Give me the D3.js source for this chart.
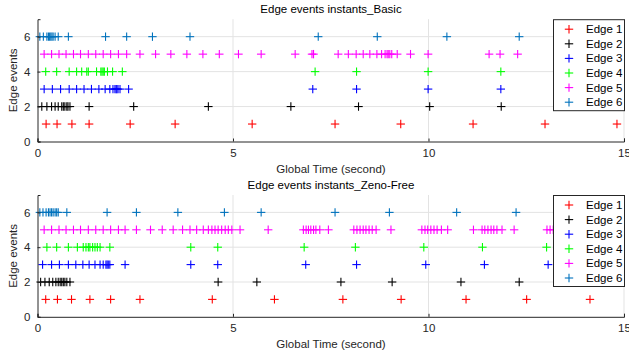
<!DOCTYPE html>
<html><head><meta charset="utf-8">
<script src="https://cdn.jsdelivr.net/npm/d3@7"></script>
<style>
body{margin:0;background:#fff;}
text{font-family:"Liberation Sans",Arial,Helvetica,sans-serif;}
</style></head>
<body><svg id="chart" width="629" height="358"></svg>
<script>
// ---------- DATA ----------
const edgeNames = ["Edge 1","Edge 2","Edge 3","Edge 4","Edge 5","Edge 6"];
const edgeLevels = [1,2,3,4,5,6];
const xTicks = [0,5,10,15];
const yTicks = [0,2,4,6];
const titles = ["Edge events instants_Basic","Edge events instants_Zeno-Free"];

// Basic
const basicEdge1 = [0.22,0.50,0.88,1.32,2.37,3.52,5.49,7.61,9.29,11.14,12.98,14.82];
const basicEdge2 = [0.11,0.24,0.36,0.45,0.53,0.62,0.66,0.70,0.75,0.78,0.83,1.32,2.46,4.37,6.48,8.21,10.03,11.86];
const basicEdge3 = [0.17,0.38,0.59,0.81,1.00,1.19,1.38,1.57,1.73,1.85,1.93,1.98,2.01,2.03,2.06,2.11,2.33,7.04,8.16,9.99,11.85];
const basicEdge4 = [0.21,0.49,0.81,1.00,1.13,1.26,1.30,1.51,1.62,1.65,1.68,1.71,1.79,1.92,2.17,7.10,8.16,9.99,11.85];
const basicEdge5 = [0.17,0.36,0.55,0.73,0.92,1.10,1.30,1.49,1.68,1.87,2.07,2.28,2.62,3.02,3.41,3.82,4.23,4.65,5.14,5.72,6.59,7.02,7.06,7.69,7.95,8.15,8.33,8.50,8.68,8.80,8.89,8.94,8.97,9.01,9.06,9.20,9.54,9.99,11.55,11.83,12.28];
const basicEdge6 = [0.06,0.15,0.24,0.28,0.31,0.34,0.37,0.40,0.45,0.53,0.79,1.74,2.28,2.94,3.90,7.18,8.69,10.47,12.32];

// Zeno-Free
const zenoEdge1 = [0.21,0.51,0.87,1.34,1.87,2.62,4.47,6.06,7.81,9.30,10.96,12.51,14.13];
const zenoEdge2 = [0.08,0.19,0.30,0.39,0.47,0.53,0.58,0.62,0.66,0.70,0.75,0.83,4.62,5.61,7.76,9.07,10.83,12.32];
const zenoEdge3 = [0.13,0.36,0.56,0.79,0.98,1.16,1.32,1.47,1.60,1.68,1.75,1.78,1.81,1.85,2.24,3.92,4.61,6.86,8.16,9.93,11.43,13.06];
const zenoEdge4 = [0.24,0.49,0.79,1.02,1.17,1.24,1.30,1.34,1.41,1.47,1.53,1.60,1.85,3.92,4.61,6.82,8.13,9.88,11.38,13.02];
const zenoEdge5 = [0.17,0.36,0.55,0.73,0.92,1.10,1.30,1.49,1.68,1.87,2.07,2.24,2.53,2.89,3.19,3.47,3.71,3.90,4.07,4.24,4.37,4.46,4.54,4.62,4.71,4.80,4.88,4.97,5.18,5.90,6.80,6.87,6.93,6.99,7.06,7.12,7.22,7.44,8.09,8.17,8.25,8.33,8.40,8.48,8.56,8.66,9.04,9.83,9.91,9.98,10.06,10.14,10.22,10.33,10.49,11.15,11.37,11.44,11.52,11.60,11.67,11.75,11.88,12.19,13.03,13.11,13.19];
const zenoEdge6 = [0.06,0.14,0.22,0.28,0.32,0.36,0.40,0.45,0.49,0.53,0.75,1.78,2.53,3.59,4.78,5.72,7.61,9.00,10.72,12.24];

const colors = ["#ff0000","#000000","#0000ff","#00ff00","#ff00ff","#0072bd"];

const panels = [
  {title: titles[0], series: [basicEdge1,basicEdge2,basicEdge3,basicEdge4,basicEdge5,basicEdge6], top: 19.2, bottom: 141.5},
  {title: titles[1], series: [zenoEdge1,zenoEdge2,zenoEdge3,zenoEdge4,zenoEdge5,zenoEdge6], top: 195, bottom: 316.8}
];

// ---------- DRAW ----------
const svg = d3.select("#chart");
const left = 37.5, right = 624;
const axisColor = "#262626";
const gridColor = "#e3e3e3";
const ms = 4.2;

function plus(sel){
  sel.append("line").attr("x1",-ms).attr("x2",ms).attr("y1",0).attr("y2",0);
  sel.append("line").attr("x1",0).attr("x2",0).attr("y1",-ms).attr("y2",ms);
}

panels.forEach(p => {
  const x = d3.scaleLinear().domain([0,15]).range([left,right]);
  const y = d3.scaleLinear().domain([0,7]).range([p.bottom,p.top]);
  const g = svg.append("g");

  // grid
  g.append("g").selectAll("line").data(xTicks.filter(d=>d>0)).join("line")
    .attr("x1",d=>x(d)).attr("x2",d=>x(d)).attr("y1",y(0)).attr("y2",y(7))
    .attr("stroke",gridColor).attr("stroke-width",1);
  g.append("g").selectAll("line").data(yTicks.filter(d=>d>0)).join("line")
    .attr("x1",x(0)).attr("x2",x(15)).attr("y1",d=>y(d)).attr("y2",d=>y(d))
    .attr("stroke",gridColor).attr("stroke-width",1);

  // markers
  p.series.forEach((vals,i) => {
    const mg = g.append("g").attr("stroke",colors[i]).attr("stroke-width",1.1);
    mg.selectAll("g").data(vals).join("g")
      .attr("transform",d=>`translate(${x(d)},${y(edgeLevels[i])})`)
      .each(function(){ plus(d3.select(this)); });
  });

  // axes
  const xAxis = d3.axisBottom(x).tickValues(xTicks).tickSize(-3).tickPadding(7).tickFormat(d3.format("d"));
  const xg = g.append("g").attr("transform",`translate(0,${y(0)})`).call(xAxis);
  const yAxis = d3.axisLeft(y).tickValues(yTicks).tickSize(-3).tickPadding(7).tickFormat(d3.format("d"));
  const yg = g.append("g").attr("transform",`translate(${x(0)},0)`).call(yAxis);
  [xg,yg].forEach(a=>{
    a.select(".domain").attr("stroke",axisColor).attr("stroke-width",1);
    a.selectAll(".tick line").attr("stroke",axisColor);
    a.selectAll(".tick text").attr("fill",axisColor).style("font-size","11.5px")
      .style("font-family","'Liberation Sans',Arial,sans-serif");
  });

  // title & labels
  g.append("text").attr("x",331).attr("y",p.top-6).attr("text-anchor","middle")
    .attr("fill","#000").style("font-size","11.5px").text(p.title);
  g.append("text").attr("x",331).attr("y",p.bottom+31).attr("text-anchor","middle")
    .attr("fill",axisColor).style("font-size","11.5px").text("Global Time (second)");
  g.append("text").attr("transform",`translate(17,${(p.top+p.bottom)/2}) rotate(-90)`)
    .attr("text-anchor","middle").attr("fill",axisColor).style("font-size","11.5px").text("Edge events");

  // legend
  const lx = 553, lw = 71, lh = 91, rowH = 14.6;
  const lg = g.append("g").attr("transform",`translate(${lx},${p.top})`);
  lg.append("rect").attr("x",0.5).attr("y",0.5).attr("width",lw).attr("height",lh)
    .attr("fill","#fff").attr("stroke",axisColor).attr("stroke-width",1);
  edgeNames.forEach((name,i)=>{
    const ry = 10 + i*rowH;
    const mk = lg.append("g").attr("transform",`translate(16,${ry})`)
      .attr("stroke",colors[i]).attr("stroke-width",1.1);
    plus(mk);
    lg.append("text").attr("x",33).attr("y",ry+4).attr("fill","#000")
      .style("font-size","11.5px").text(name);
  });
});
</script></body></html>
